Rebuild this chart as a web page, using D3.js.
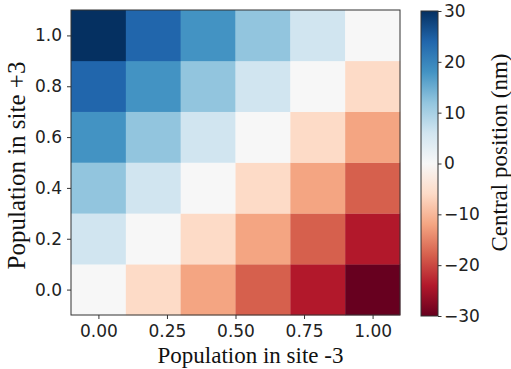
<!DOCTYPE html>
<html><head><meta charset="utf-8">
<script src="https://cdn.jsdelivr.net/npm/d3@7"></script>
<style>body{margin:0;background:#fff}svg{display:block}</style>
</head><body>
<script>
const xCats = [0.0, 0.2, 0.4, 0.6, 0.8, 1.0];
const yCats = [0.0, 0.2, 0.4, 0.6, 0.8, 1.0];
// rows: y from 0.0 to 1.0; columns: x from 0.0 to 1.0
const values = [
  [0, -6, -12, -18, -24, -30],
  [6, 0, -6, -12, -18, -24],
  [12, 6, 0, -6, -12, -18],
  [18, 12, 6, 0, -6, -12],
  [24, 18, 12, 6, 0, -6],
  [30, 24, 18, 12, 6, 0]
];
const xTicks = [0.0, 0.25, 0.5, 0.75, 1.0];
const yTicks = [0.0, 0.2, 0.4, 0.6, 0.8, 1.0];
const cTicks = [-30, -20, -10, 0, 10, 20, 30];
const rdbu = ["#67001f","#b2182b","#d6604d","#f4a582","#fddbc7","#f7f7f7","#d1e5f0","#92c5de","#4393c3","#2166ac","#053061"];

const W = 511, H = 369;
const svg = d3.select("body").append("svg").attr("width", W).attr("height", H);
const L = 71, R = 400, T = 10, B = 315;
const x = d3.scaleLinear().domain([-0.1, 1.1]).range([L, R]);
const y = d3.scaleLinear().domain([-0.1, 1.1]).range([B, T]);
const cdom = d3.range(11).map(i => -30 + i * 6);
const color = d3.scaleLinear().domain(cdom).range(rdbu).interpolate(d3.interpolateRgb);

const cells = [];
values.forEach((row, i) => row.forEach((v, j) => cells.push({x: xCats[j], y: yCats[i], v})));
svg.append("g").selectAll("rect").data(cells).join("rect")
  .attr("x", d => x(d.x - 0.1)).attr("y", d => y(d.y + 0.1))
  .attr("width", d => x(d.x + 0.1) - x(d.x - 0.1) + 0.3)
  .attr("height", d => y(d.y - 0.1) - y(d.y + 0.1) + 0.3)
  .attr("fill", d => color(d.v));

svg.append("rect").attr("x", L).attr("y", T).attr("width", R - L).attr("height", B - T)
  .attr("fill", "none").attr("stroke", "#333").attr("stroke-width", 1);

const tickFont = "'DejaVu Sans', sans-serif";
const xa = svg.append("g").attr("transform", `translate(0,${B})`)
  .call(d3.axisBottom(x).tickValues(xTicks).tickFormat(d3.format(".2f")).tickSize(4).tickPadding(6));
const ya = svg.append("g").attr("transform", `translate(${L},0)`)
  .call(d3.axisLeft(y).tickValues(yTicks).tickFormat(d3.format(".1f")).tickSize(4).tickPadding(5));
[xa, ya].forEach(a => {
  a.select(".domain").remove();
  a.selectAll("line").attr("stroke", "#333");
  a.selectAll("text").attr("font-family", tickFont).attr("font-size", 17).attr("fill", "#222");
});

const serif = "'Liberation Serif', 'Times New Roman', serif";
svg.append("text").attr("x", 250.5).attr("y", 363).attr("text-anchor", "middle")
  .attr("font-family", serif).attr("font-size", 23).attr("fill", "#111").text("Population in site -3");
svg.append("text").attr("transform", "translate(25,165.5) rotate(-90)").attr("text-anchor", "middle")
  .attr("font-family", serif).attr("font-size", 25).attr("fill", "#111").text("Population in site +3");

// colorbar
const cbL = 421, cbR = 438, cbT = 11, cbB = 316;
const grad = svg.append("defs").append("linearGradient").attr("id", "cb")
  .attr("x1", 0).attr("y1", 1).attr("x2", 0).attr("y2", 0);
grad.selectAll("stop").data(cdom).join("stop")
  .attr("offset", d => (d + 30) / 60).attr("stop-color", d => color(d));
svg.append("rect").attr("x", cbL).attr("y", cbT).attr("width", cbR - cbL).attr("height", cbB - cbT)
  .attr("fill", "url(#cb)").attr("stroke", "#333").attr("stroke-width", 1);
const cy = d3.scaleLinear().domain([-30, 30]).range([cbB, cbT]);
const ca = svg.append("g").attr("transform", `translate(${cbR},0)`)
  .call(d3.axisRight(cy).tickValues(cTicks).tickFormat(d => d < 0 ? "\u2212" + Math.abs(d) : d).tickSize(3.5).tickPadding(2.5));
ca.select(".domain").remove();
ca.selectAll("line").attr("stroke", "#333");
ca.selectAll("text").attr("font-family", tickFont).attr("font-size", 17).attr("fill", "#222");
svg.append("text").attr("transform", "translate(507,152.5) rotate(-90)").attr("text-anchor", "middle")
  .attr("font-family", serif).attr("font-size", 23).attr("fill", "#111").text("Central position (nm)");
</script>
</body></html>
